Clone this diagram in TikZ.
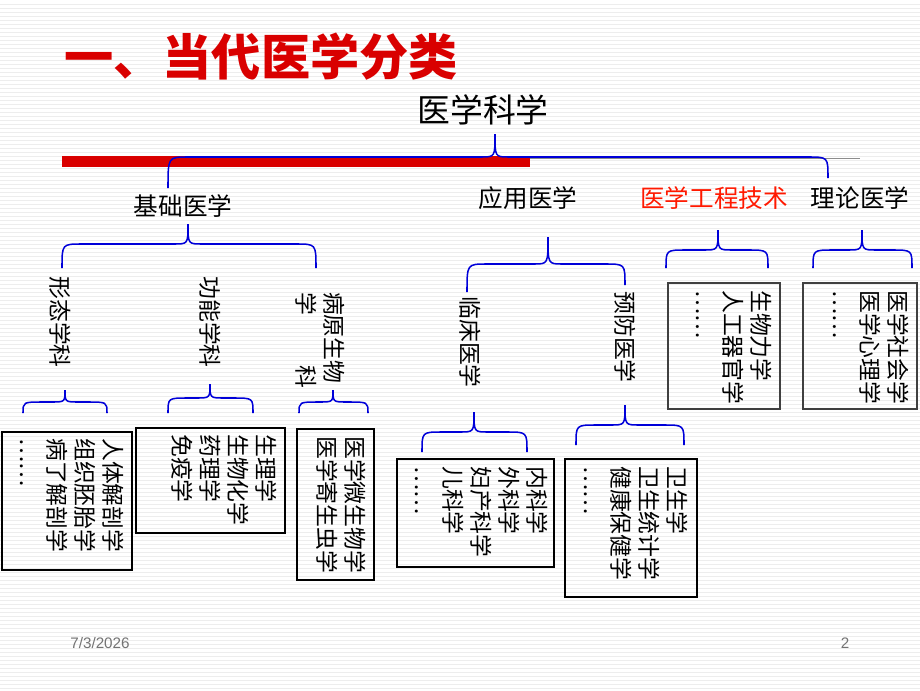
\documentclass[tikz,border=0pt]{standalone}
\usepackage{fontspec}
\setmainfont{Noto Sans CJK SC}
\newfontfamily\latin{Liberation Sans}
\usetikzlibrary{positioning}
\tikzset{label/.style={inner sep=0pt,font=\fontsize{19.5}{24}\selectfont},
         head/.style={label,font=\fontsize{21}{26}\selectfont},
         vlabel/.style={label,rotate=-90,align=left},
         vbox/.style={label,rotate=-90,align=left,anchor=north west},
         frame/.style={draw,line width=1.6pt},
         thinframe/.style={draw=black!75,line width=0.9pt},
         cbrace/.style={draw=blue!85!black,line width=1.3pt}}
% brace: left end, right end, tip x, arm y, tip y, end y (left), end y (right)
\newcommand{\hbrace}[7]{\draw[cbrace] (#1,#6) .. controls (#1,#4) .. (#1+20,#4)
   -- (#3-14,#4) .. controls (#3,#4) .. (#3,#5) .. controls (#3,#4) .. (#3+14,#4)
   -- (#2-20,#4) .. controls (#2,#4) .. (#2,#7);}
\begin{document}
\begin{tikzpicture}[x=0.03cm,y=-0.03cm]
    \useasboundingbox[fill=white] (0,0) rectangle (920,690);
    \foreach \y in {4,8,...,688}{%
          \draw[black!7,line width=0.4pt] (0,\y) -- (920,\y);
        }
    % title
    \node[anchor=west,text=red!85!black,inner sep=0pt,
          font=\fontsize{42}{44}\selectfont\bfseries] (title) at (64,57) {一、当代医学分类};
    \node[label,font=\fontsize{28}{30}\selectfont] (root) at (483,110) {医学科学};
    \draw[black!45,line width=0.6pt] (62,158) -- (860,158);
    \fill[red!85!black] (62,156) rectangle (530,167);
    \hbrace{168}{828}{495}{157}{134}{188}{178}
    % second level
    \node[head] (base) at (183,206) {基础医学};
    \node[head] (apply) at (528,198) {应用医学};
    \node[head,text=red!80!orange] (eng) at (714,198) {医学工程技术};
    \node[head] (theory) at (860,198) {理论医学};
    \hbrace{62}{316}{188}{244}{224}{268}{268}
    \hbrace{467}{625}{548}{264}{237}{292}{285}
    \hbrace{666}{768}{718}{250}{230}{268}{268}
    \hbrace{813}{912}{862}{250}{230}{268}{268}
    % third level
    \node[vlabel] (form) at (60,322) {形态学科};
    \node[vlabel] (func) at (210,322) {功能学科};
    \node[vlabel] (path) at (320,340) {病原生物\\学\hspace{2.2em}科};
    \node[vlabel] (clin) at (470,342) {临床医学};
    \node[vlabel] (prev) at (625,337) {预防医学};
    \hbrace{23}{107}{65}{402}{390}{413}{413}
    \hbrace{168}{253}{210}{398}{384}{413}{413}
    \hbrace{299}{368}{333}{402}{390}{413}{413}
    \hbrace{422}{527}{474}{432}{412}{452}{452}
    \hbrace{576}{684}{625}{425}{405}{445}{445}
    % boxes
    \draw[frame] (2,432) rectangle (132,570);
    \node[vbox] (formlist) at (124,438) {人体解剖学\\组织胚胎学\\病了解剖学\\……};
    \draw[frame] (136,428) rectangle (285,533);
    \node[vbox] (funclist) at (277,434) {生理学\\生物化学\\药理学\\免疫学};
    \draw[frame] (297,429) rectangle (374,580);
    \node[vbox] (pathlist) at (366,436) {医学微生物学\\医学寄生虫学};
    \draw[frame] (397,459) rectangle (554,567);
    \node[vbox] (clinlist) at (548,466) {内科学\\外科学\\妇产科学\\儿科学\\……};
    \draw[frame] (565,459) rectangle (697,597);
    \node[vbox] (prevlist) at (688,466) {卫生学\\卫生统计学\\健康保健学\\……};
    \draw[thinframe] (668,283) rectangle (780,409);
    \node[vbox] (englist) at (772,290) {生物力学\\人工器官学\\……};
    \draw[thinframe] (803,283) rectangle (917,409);
    \node[vbox] (theolist) at (909,290) {医学社会学\\医学心理学\\……};
    % footer
    \node[text=black!55,font=\latin\fontsize{13}{14}\selectfont] (date) at (100,643) {7/3/2026};
    \node[text=black!55,font=\latin\fontsize{13}{14}\selectfont] (page) at (845,643) {2};
\end{tikzpicture}
\end{document}
